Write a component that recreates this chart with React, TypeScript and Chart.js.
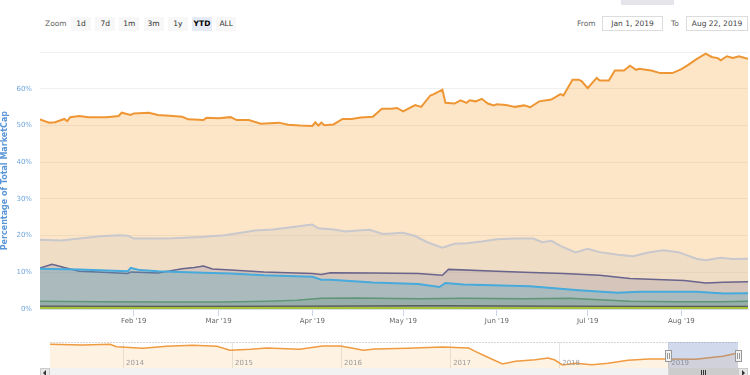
import React, { useEffect, useRef } from "react";
import { Chart, registerables } from "chart.js";
Chart.register(...registerables);

const FONT = "'DejaVu Sans', sans-serif";

// ---- main chart data (x = day offset from Jan 1, 2019; y = % of total market cap)
const monthTickDays = [31, 59, 90, 120, 151, 181, 212];
const monthTickLabels = ["Feb '19", "Mar '19", "Apr '19", "May '19", "Jun '19", "Jul '19", "Aug '19"];
const yAxisTitle = "Percentage of Total MarketCap";

const btcDominance: [number, number][] = [
  [0, 51.7], [3, 50.8], [5, 50.9], [8, 51.8], [9, 51.2], [10, 52.3], [13, 52.6], [16, 52.3], [22, 52.3],
  [26, 52.6], [27, 53.5], [30, 52.9], [31, 53.3], [36, 53.5], [39, 52.9], [44, 52.6], [47, 52.4], [49, 51.7],
  [54, 51.5], [55, 52.1], [59, 52.0], [63, 52.3], [65, 51.5], [69, 51.5], [73, 50.5], [79, 50.8], [82, 50.2],
  [86, 50.0], [90, 49.9], [91, 50.9], [92, 50.0], [93, 50.8], [94, 50.1], [97, 50.3], [100, 51.8], [103, 51.8],
  [106, 52.2], [110, 52.4], [113, 54.6], [116, 54.6], [118, 54.8], [120, 53.9], [124, 55.6], [126, 55.1],
  [129, 58.2], [130, 58.5], [133, 59.8], [134, 56.2], [137, 56.0], [139, 56.9], [141, 56.2], [142, 56.9],
  [144, 56.6], [146, 57.3], [148, 56.0], [150, 55.5], [151, 55.8], [154, 55.6], [157, 55.1], [160, 55.5],
  [162, 55.0], [165, 56.6], [169, 57.1], [172, 58.6], [173, 58.2], [176, 62.5], [178, 62.5], [179, 62.1],
  [181, 60.2], [184, 63.0], [185, 62.3], [188, 62.3], [190, 65.0], [193, 65.0], [195, 66.3], [197, 65.2],
  [198, 65.5], [202, 65.0], [205, 64.3], [209, 64.3], [212, 65.4], [214, 66.4], [217, 68.1], [220, 69.6],
  [222, 68.7], [224, 68.4], [225, 67.8], [227, 68.9], [229, 68.4], [231, 68.9], [233, 68.4], [234, 68.2],
];

const othersDominance: [number, number][] = [
  [0, 18.9], [7, 18.7], [13, 19.2], [20, 19.8], [26, 20.1], [29, 20.0], [31, 19.2], [37, 19.2], [44, 19.3],
  [53, 19.6], [61, 20.1], [68, 21.0], [71, 21.4], [77, 21.7], [83, 22.3], [88, 22.8], [90, 23.0], [92, 22.0],
  [97, 21.7], [101, 21.1], [105, 21.4], [109, 21.6], [113, 20.5], [115, 20.5], [120, 20.8], [124, 19.9],
  [128, 18.2], [133, 16.7], [137, 17.8], [141, 17.9], [146, 18.4], [151, 19.0], [157, 19.2], [163, 19.2],
  [166, 18.2], [169, 18.6], [172, 17.2], [177, 15.4], [181, 16.4], [185, 15.5], [191, 14.8], [196, 14.4],
  [201, 15.4], [206, 16.0], [211, 15.5], [217, 13.7], [220, 13.3], [225, 14.0], [229, 13.6], [234, 13.7],
];

const ethDominance: [number, number][] = [
  [0, 11.2], [4, 12.2], [8, 11.3], [13, 10.3], [19, 10.1], [29, 9.7], [30, 10.1], [39, 9.8], [47, 11.0],
  [51, 11.3], [54, 11.7], [57, 10.9], [63, 10.6], [74, 10.1], [90, 9.7], [93, 9.4], [96, 9.9], [110, 9.8],
  [125, 9.7], [133, 9.2], [135, 10.8], [151, 10.3], [160, 10.0], [173, 9.7], [185, 9.2], [195, 8.3],
  [206, 8.0], [213, 7.8], [220, 7.1], [226, 7.3], [234, 7.4],
];

const xrpDominance: [number, number][] = [
  [0, 11.0], [13, 10.8], [29, 10.3], [30, 11.2], [33, 10.6], [39, 10.3], [54, 9.9], [63, 9.7], [74, 9.2],
  [90, 8.8], [93, 8.0], [96, 8.0], [110, 7.2], [125, 6.8], [132, 6.0], [134, 7.1], [140, 6.7], [162, 6.2],
  [178, 5.1], [191, 4.4], [198, 4.7], [217, 4.7], [226, 4.2], [234, 4.3],
];

const ltcDominance: [number, number][] = [
  [0, 2.1], [20, 2.0], [40, 1.9], [60, 1.9], [75, 2.1], [85, 2.4], [93, 2.9], [105, 3.0], [125, 2.8],
  [140, 2.9], [160, 2.8], [175, 2.9], [185, 2.5], [195, 2.1], [210, 2.0], [225, 2.0], [234, 2.1],
];

const bchDominance: [number, number][] = [
  [0, 0.8], [40, 0.7], [90, 0.8], [130, 0.9], [170, 0.8], [200, 0.7], [234, 0.7],
];

const usdtDominance: [number, number][] = [
  [0, 0.3], [60, 0.3], [120, 0.3], [180, 0.3], [234, 0.3],
];

// ---- navigator data (x = year, y = BTC dominance %)
const navYears = [2014, 2015, 2016, 2017, 2018, 2019];
const navYearLabels = ["2014", "2015", "2016", "2017", "2018", "2019"];
const navBtc: [number, number][] = [
  [2013.33, 95], [2013.63, 93], [2013.88, 95], [2013.94, 88], [2014.18, 83], [2014.4, 89], [2014.64, 92],
  [2014.86, 89], [2014.98, 77], [2015.17, 80], [2015.32, 84], [2015.62, 80], [2015.83, 90], [2015.99, 90],
  [2016.11, 83], [2016.2, 77], [2016.31, 81], [2016.61, 83], [2016.93, 87], [2017.17, 84], [2017.23, 74],
  [2017.32, 60], [2017.48, 36], [2017.6, 44], [2017.78, 49], [2017.9, 54], [2017.96, 48], [2018.03, 33],
  [2018.15, 38], [2018.3, 34], [2018.45, 38], [2018.63, 47], [2018.82, 51], [2019.0, 51], [2019.25, 50],
  [2019.5, 59], [2019.64, 69],
];
const selectedFrom = 2019.0;
const selectedTo = 2019.64;

const rangeButtons = ["1d", "7d", "1m", "3m", "1y", "YTD", "ALL"];
const selectedButton = "YTD";
const fromDate = "Jan 1, 2019";
const toDate = "Aug 22, 2019";

const toXY = (arr: [number, number][]) => arr.map(([x, y]) => ({ x, y }));

const navDecor = {
  id: "navDecor",
  afterDraw(chart: any) {
    const { ctx, chartArea } = chart;
    const { left, right, top, bottom } = chartArea;
    const xs = chart.scales.x;
    ctx.save();
    // year labels
    ctx.fillStyle = "#999";
    ctx.font = `7px ${FONT}`;
    ctx.textAlign = "left";
    ctx.textBaseline = "alphabetic";
    navYears.forEach((yr, i) => {
      ctx.fillText(navYearLabels[i], xs.getPixelForValue(yr) + 3, bottom - 3);
    });
    // top outline
    ctx.strokeStyle = "#d6d6d6";
    ctx.setLineDash([2, 1]);
    ctx.lineWidth = 1;
    ctx.beginPath();
    ctx.moveTo(left, top + 0.5);
    ctx.lineTo(right, top + 0.5);
    ctx.stroke();
    ctx.setLineDash([]);
    // selection mask
    const x0 = xs.getPixelForValue(selectedFrom);
    const x1 = xs.getPixelForValue(selectedTo);
    ctx.fillStyle = "rgba(102,133,194,0.3)";
    ctx.fillRect(x0, top, x1 - x0, bottom - top);
    // handles
    [x0, x1].forEach((hx) => {
      ctx.fillStyle = "#f2f2f2";
      ctx.strokeStyle = "#999";
      ctx.fillRect(Math.round(hx) - 3, top + 8, 6, 11);
      ctx.strokeRect(Math.round(hx) - 3 + 0.5, top + 8.5, 6, 11);
      ctx.beginPath();
      ctx.moveTo(Math.round(hx) - 0.5, top + 11);
      ctx.lineTo(Math.round(hx) - 0.5, top + 17);
      ctx.moveTo(Math.round(hx) + 1.5, top + 11);
      ctx.lineTo(Math.round(hx) + 1.5, top + 17);
      ctx.stroke();
    });
    // scrollbar
    ctx.fillStyle = "#f2f2f2";
    ctx.fillRect(left - 10, bottom, right - left + 20, 14);
    ctx.fillStyle = "#cccccc";
    ctx.fillRect(x0, bottom, x1 - x0, 14);
    ctx.strokeStyle = "#333";
    const cx = Math.round((x0 + x1) / 2);
    [-2, 0, 2].forEach((d) => {
      ctx.beginPath();
      ctx.moveTo(cx + d + 0.5, bottom + 2);
      ctx.lineTo(cx + d + 0.5, bottom + 8);
      ctx.stroke();
    });
    // buttons
    [left - 10, right].forEach((bx, i) => {
      ctx.fillStyle = "#e6e6e6";
      ctx.fillRect(bx, bottom, 10, 14);
      ctx.strokeStyle = "#cccccc";
      ctx.strokeRect(bx + 0.5, bottom + 0.5, 9, 13);
      ctx.fillStyle = "#333";
      ctx.beginPath();
      if (i === 0) {
        ctx.moveTo(bx + 3, bottom + 5);
        ctx.lineTo(bx + 6, bottom + 2);
        ctx.lineTo(bx + 6, bottom + 8);
      } else {
        ctx.moveTo(bx + 7, bottom + 5);
        ctx.lineTo(bx + 4, bottom + 2);
        ctx.lineTo(bx + 4, bottom + 8);
      }
      ctx.closePath();
      ctx.fill();
    });
    ctx.restore();
  },
};

export default function App() {
  const mainRef = useRef<HTMLCanvasElement | null>(null);
  const navRef = useRef<HTMLCanvasElement | null>(null);

  useEffect(() => {
    const mk = (
      label: string,
      data: [number, number][],
      line: string,
      fillC: string,
      width: number,
      order: number
    ) => ({
      label,
      data: toXY(data),
      borderColor: line,
      backgroundColor: fillC,
      borderWidth: width,
      fill: "origin",
      pointRadius: 0,
      tension: 0,
      order,
    });

    const main = new Chart(mainRef.current!, {
      type: "line",
      data: {
        datasets: [
          mk("Bitcoin", btcDominance, "rgb(239,150,52)", "rgba(247,147,26,0.24)", 2, 7),
          mk("Others", othersDominance, "rgb(200,200,205)", "rgba(215,205,195,0.35)", 2, 6),
          mk("Ethereum", ethDominance, "rgb(105,100,140)", "rgba(110,100,140,0.2)", 1.5, 5),
          mk("XRP", xrpDominance, "rgb(70,170,220)", "rgba(70,160,195,0.3)", 2, 4),
          mk("Litecoin", ltcDominance, "rgb(95,150,120)", "rgba(90,140,120,0.25)", 1.5, 3),
          mk("Bitcoin Cash", bchDominance, "rgb(90,90,90)", "rgba(80,80,80,0.3)", 1.2, 2),
          mk("Tether", usdtDominance, "rgb(165,195,55)", "rgba(165,195,55,0.6)", 2, 1),
        ],
      },
      options: {
        animation: false,
        responsive: false,
        events: [],
        layout: { padding: { top: 11, right: 2, left: 0, bottom: 0 } },
        plugins: { legend: { display: false }, tooltip: { enabled: false } },
        scales: {
          x: {
            type: "linear",
            min: 0,
            max: 234,
            afterBuildTicks: (s: any) => {
              s.ticks = monthTickDays.map((v) => ({ value: v }));
            },
            afterFit: (s: any) => {
              s.height = 21;
            },
            ticks: {
              autoSkip: false,
              maxRotation: 0,
              padding: 1,
              color: "#666",
              font: { size: 7, family: FONT },
              callback: (v: any) => {
                const i = monthTickDays.indexOf(Number(v));
                return i >= 0 ? monthTickLabels[i] : "";
              },
            },
            grid: { drawOnChartArea: false, drawTicks: true, tickLength: 7, color: "#ccd6eb" },
            border: { color: "#d8dde8" },
          },
          y: {
            min: 0,
            max: 70,
            afterFit: (s: any) => {
              s.width = 40;
            },
            ticks: {
              stepSize: 10,
              padding: 8,
              color: "rgb(111,165,220)",
              font: { size: 7, family: FONT },
              callback: (v: any) => (Number(v) === 70 ? "" : v + "%"),
            },
            grid: { color: "#efefef", drawTicks: false },
            border: { display: false },
            title: {
              display: true,
              text: yAxisTitle,
              color: "rgb(90,150,215)",
              font: { size: 8, weight: "bold", family: FONT },
              padding: { top: 0, bottom: 0 },
            },
          },
        },
      },
    } as any);

    const nav = new Chart(navRef.current!, {
      type: "line",
      data: {
        datasets: [
          {
            label: "Bitcoin",
            data: toXY(navBtc),
            borderColor: "rgb(239,155,65)",
            backgroundColor: "rgba(247,147,26,0.12)",
            borderWidth: 1.5,
            fill: "origin",
            pointRadius: 0,
            tension: 0,
          },
        ],
      },
      options: {
        animation: false,
        responsive: false,
        events: [],
        layout: { padding: { top: 4, right: 12, left: 50, bottom: 7 } },
        plugins: { legend: { display: false }, tooltip: { enabled: false } },
        scales: {
          x: {
            type: "linear",
            min: 2013.33,
            max: 2019.64,
            afterBuildTicks: (s: any) => {
              s.ticks = navYears.map((v) => ({ value: v }));
            },
            afterFit: (s: any) => {
              s.height = 0;
            },
            ticks: { display: false },
            grid: { color: "#e6e6e6", drawTicks: false },
            border: { display: false },
          },
          y: { display: false, min: 24, max: 102 },
        },
      },
      plugins: [navDecor],
    } as any);

    return () => {
      main.destroy();
      nav.destroy();
    };
  }, []);

  const txt: React.CSSProperties = {
    position: "absolute",
    fontFamily: FONT,
    fontSize: "7.5px",
    lineHeight: "14px",
    height: 14,
    whiteSpace: "nowrap",
  };

  return (
    <div
      style={{
        position: "fixed",
        left: 0,
        top: 0,
        width: 750,
        height: 375,
        background: "#fff",
        overflow: "hidden",
      }}
    >
      <div style={{ position: "absolute", left: 621, top: 0, width: 53, height: 5, background: "#e4e4ea" }} />
      <div style={{ ...txt, left: 45, top: 17, color: "#666" }}>Zoom</div>
      {rangeButtons.map((b, i) => (
        <div
          key={b}
          style={{
            ...txt,
            left: 71 + i * 24.2,
            top: 17,
            width: 20,
            textAlign: "center",
            background: b === selectedButton ? "#e6ebf5" : "#f7f7f7",
            color: b === selectedButton ? "#000" : "#333",
            fontWeight: b === selectedButton ? "bold" : "normal",
          }}
        >
          {b}
        </div>
      ))}
      <div style={{ ...txt, left: 577, top: 17, color: "#666" }}>From</div>
      <div
        style={{
          ...txt,
          left: 602,
          top: 16,
          width: 59,
          height: 13,
          lineHeight: "13px",
          border: "1px solid #dcdcdc",
          textAlign: "center",
          color: "#444",
        }}
      >
        {fromDate}
      </div>
      <div style={{ ...txt, left: 671, top: 17, color: "#666" }}>To</div>
      <div
        style={{
          ...txt,
          left: 686,
          top: 16,
          width: 60,
          height: 13,
          lineHeight: "13px",
          border: "1px solid #dcdcdc",
          textAlign: "center",
          color: "#444",
        }}
      >
        {toDate}
      </div>
      <canvas
        ref={mainRef}
        width={750}
        height={290}
        style={{ position: "absolute", left: 0, top: 40, width: 750, height: 290 }}
      />
      <canvas
        ref={navRef}
        width={750}
        height={37}
        style={{ position: "absolute", left: 0, top: 338, width: 750, height: 37 }}
      />
    </div>
  );
}
